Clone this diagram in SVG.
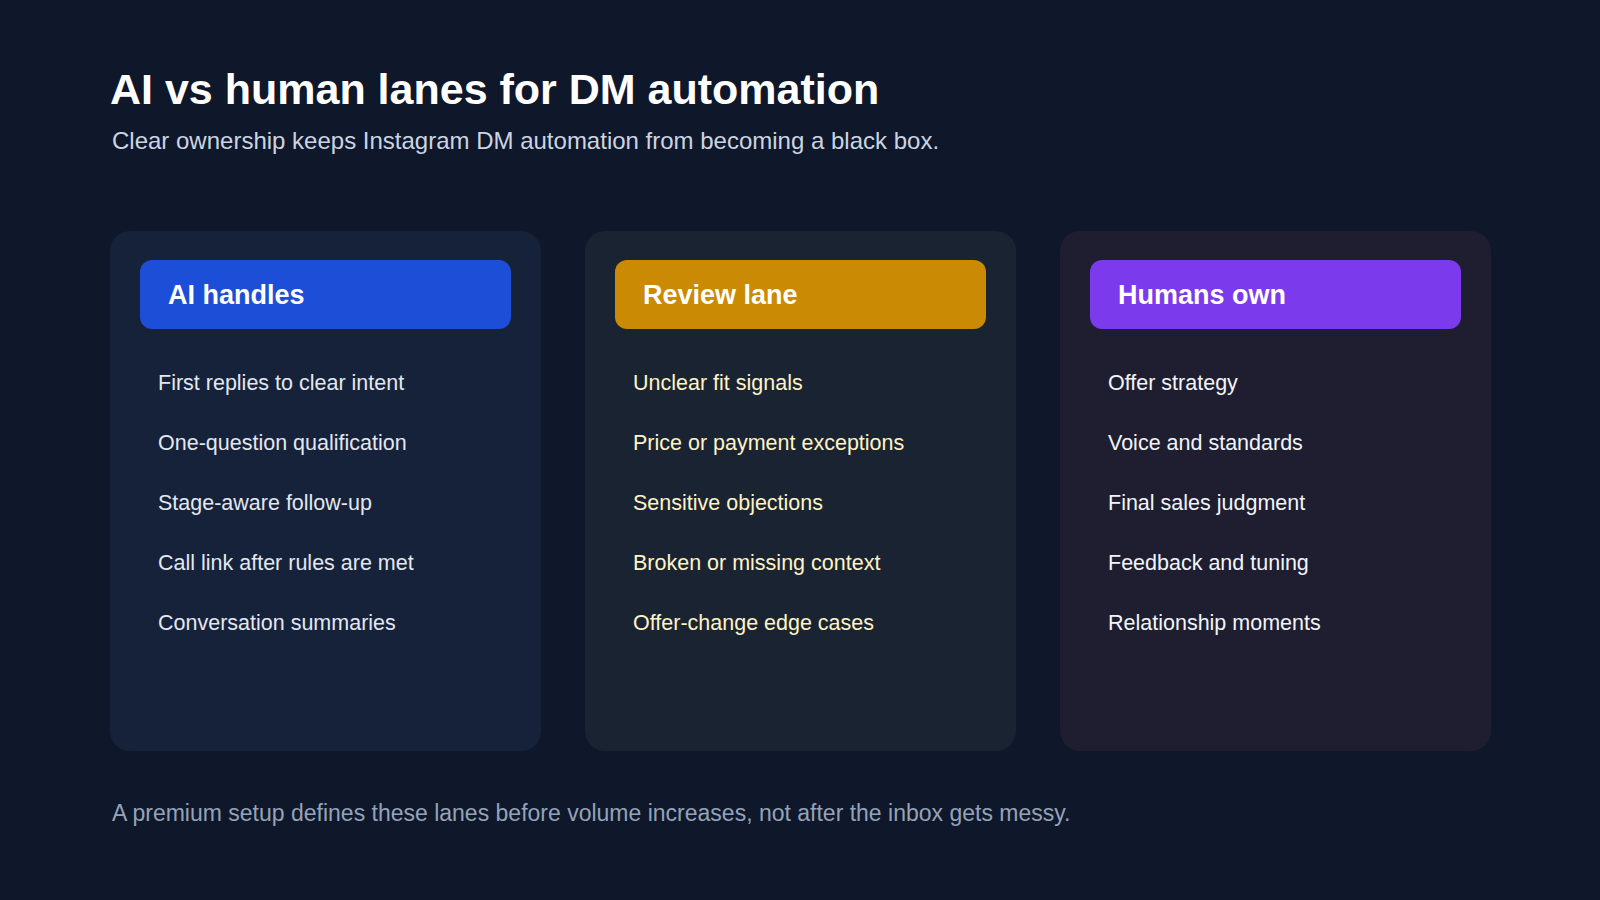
<svg xmlns="http://www.w3.org/2000/svg" width="1600" height="900" viewBox="0 0 1600 900">
<style>
text{font-family:"Liberation Sans",Arial,sans-serif}
.card{rx:20px}
.hdr{rx:12px}
.ht{font-size:27px;font-weight:bold;fill:#fff}
.it{font-size:21.5px}
</style>
<rect width="1600" height="900" fill="#0f172a"/>
<text x="110" y="104" font-size="43" font-weight="bold" fill="#ffffff">AI vs human lanes for DM automation</text>
<text x="112" y="149" font-size="24" fill="#cbd5e1">Clear ownership keeps Instagram DM automation from becoming a black box.</text>
<g id="ai">
<rect class="card" x="110" y="231" width="431" height="520" fill="#16213a"/>
<rect class="hdr" x="140" y="260" width="371" height="69" fill="#1d4ed8"/>
<text class="ht" x="168" y="304">AI handles</text>
<g class="it" fill="#e2e8f0">
<text x="158" y="390">First replies to clear intent</text>
<text x="158" y="450">One-question qualification</text>
<text x="158" y="510">Stage-aware follow-up</text>
<text x="158" y="570">Call link after rules are met</text>
<text x="158" y="630">Conversation summaries</text>
</g></g>
<g id="review">
<rect class="card" x="585" y="231" width="431" height="520" fill="#1a2331"/>
<rect class="hdr" x="615" y="260" width="371" height="69" fill="#ca8a04"/>
<text class="ht" x="643" y="304">Review lane</text>
<g class="it" fill="#fef3c7">
<text x="633" y="390">Unclear fit signals</text>
<text x="633" y="450">Price or payment exceptions</text>
<text x="633" y="510">Sensitive objections</text>
<text x="633" y="570">Broken or missing context</text>
<text x="633" y="630">Offer-change edge cases</text>
</g></g>
<g id="humans">
<rect class="card" x="1060" y="231" width="431" height="520" fill="#1e1e30"/>
<rect class="hdr" x="1090" y="260" width="371" height="69" fill="#7c3aed"/>
<text class="ht" x="1118" y="304">Humans own</text>
<g class="it" fill="#f1f5f9">
<text x="1108" y="390">Offer strategy</text>
<text x="1108" y="450">Voice and standards</text>
<text x="1108" y="510">Final sales judgment</text>
<text x="1108" y="570">Feedback and tuning</text>
<text x="1108" y="630">Relationship moments</text>
</g></g>
<g id="connectors"></g>
<text x="112" y="821" font-size="23" fill="#94a3b8">A premium setup defines these lanes before volume increases, not after the inbox gets messy.</text>
</svg>
